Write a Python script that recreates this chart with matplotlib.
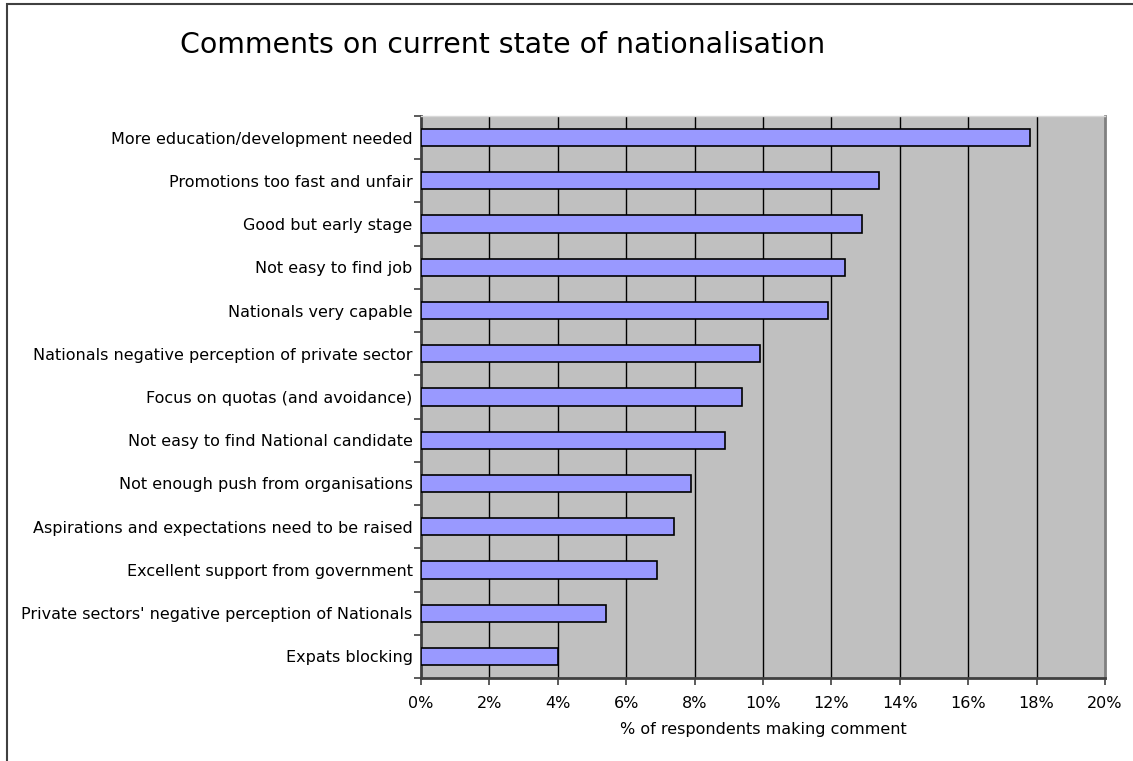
import matplotlib
matplotlib.use("Agg")
import matplotlib.pyplot as plt
from matplotlib.patches import Rectangle
from matplotlib.ticker import FuncFormatter, MultipleLocator, FixedLocator
import numpy as np

# comentarios (de arriba hacia abajo) y % de encuestados
categorias = [
    "More education/development needed",
    "Promotions too fast and unfair",
    "Good but early stage",
    "Not easy to find job",
    "Nationals very capable",
    "Nationals negative perception of private sector",
    "Focus on quotas (and avoidance)",
    "Not easy to find National candidate",
    "Not enough push from organisations",
    "Aspirations and expectations need to be raised",
    "Excellent support from government",
    "Private sectors' negative perception of Nationals",
    "Expats blocking",
]
porcentajes = [17.8, 13.4, 12.9, 12.4, 11.9, 9.9, 9.4, 8.9, 7.9, 7.4, 6.9, 5.4, 4.0]

titulo = "Comments on current state of nationalisation"
eje_x = "% of respondents making comment"

W, H = 1133, 761
plt.rcParams["font.family"] = ["DejaVu Sans"]
fs = 11.5

fig = plt.figure(figsize=(W / 100, H / 100), dpi=100)
fig.patch.set_facecolor("white")

# marco exterior del gráfico
fig.patches.append(Rectangle((7 / W, -0.05), 1.2, 1 - 4 / H + 0.05,
                             transform=fig.transFigure, fill=False,
                             edgecolor="#404040", linewidth=1.5))

ax = fig.add_axes([421 / W, 1 - 678 / H, (1105 - 421) / W, (678 - 116) / H])
ax.set_facecolor("#c0c0c0")

n = len(categorias)
pos = np.arange(n)[::-1]
ax.barh(pos, porcentajes, height=0.4, color="#9999ff",
        edgecolor="black", linewidth=1.2, zorder=3)

ax.set_xlim(0, 20)
ax.set_ylim(-0.5, n - 0.5)

ax.xaxis.set_major_locator(MultipleLocator(2))
ax.xaxis.set_major_formatter(FuncFormatter(lambda v, _: f"{v:.0f}%"))
for x in np.arange(2, 20, 2):
    ax.axvline(x, color="black", linewidth=1, zorder=1)

ax.set_yticks(pos)
ax.set_yticklabels(categorias, fontsize=fs)
ax.yaxis.set_minor_locator(FixedLocator(np.arange(-0.5, n, 1)))
ax.tick_params(axis="y", which="major", length=0, pad=6)
ax.tick_params(axis="y", which="minor", length=5, width=1.2, color="#404040", direction="out")
ax.tick_params(axis="x", length=5, width=1.2, color="#404040", direction="out",
               labelsize=fs, pad=8)

for s in ("left", "bottom"):
    ax.spines[s].set_color("#404040")
    ax.spines[s].set_linewidth(2)
ax.spines["right"].set_color("#808080")
ax.spines["right"].set_linewidth(2)
ax.spines["top"].set_color("#d8d8d8")
ax.spines["top"].set_linewidth(1)

ax.set_xlabel(eje_x, fontsize=fs, labelpad=8)

fig.text(180 / W, 1 - 45 / H, titulo, fontsize=20.4, ha="left", va="center")

fig.savefig("out.png", dpi=100)
